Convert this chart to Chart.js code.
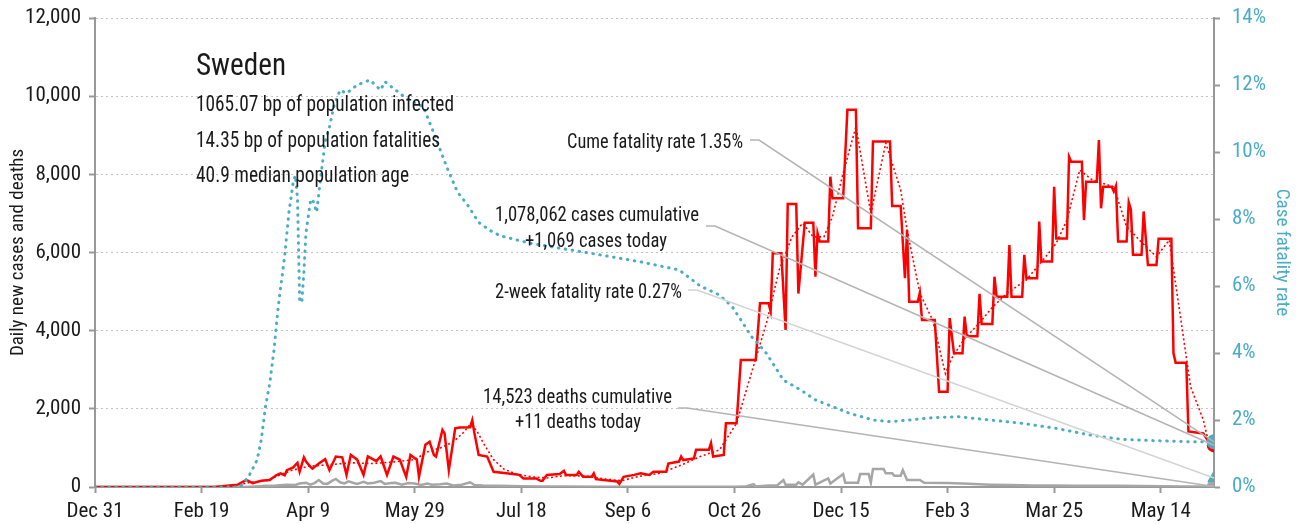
<!DOCTYPE html>
<html>
<head>
<meta charset="utf-8">
<script src="https://cdn.jsdelivr.net/npm/chart.js@4.4.1/dist/chart.umd.min.js"></script>
<style>
  html, body { margin: 0; padding: 0; background: #fff; }
  #wrap { width: 1312px; height: 524px; }
</style>
</head>
<body>
<div id="wrap"><canvas id="myChart"></canvas></div>
<script>
// day 0 = Dec 31, 2019
var lastDay = 525;
var months = ['Jan','Feb','Mar','Apr','May','Jun','Jul','Aug','Sep','Oct','Nov','Dec'];

// daily new cases (vertices: day, value)
var caseDays = [0,56,62,67,71,74,78,82,85,87,89,90,93,95,96,98,99,101,102,105,108,110,113,116,118,120,123,126,128,132,134,137,140,143,146,148,151,152,155,157,159,160,163,164,166,169,171,176,177,178,180,184,187,193,199,201,207,209,210,212,218,220,221,226,227,229,233,234,235,245,246,248,253,256,260,262,268,269,274,275,276,281,282,288,289,290,295,296,301,303,310,312,316,317,318,322,324,325,329,330,333,337,338,339,340,344,345,346,351,353,357,358,364,365,373,374,378,380,381,382,386,387,388,394,396,400,401,403,407,408,409,414,415,416,421,422,423,428,429,430,435,436,437,442,443,444,449,450,451,456,457,458,463,464,465,470,471,472,473,477,478,479,480,484,485,486,487,491,492,494,498,499,505,506,507,512,513,520,522,525];
var caseVals = [0,0,30,60,180,100,160,180,300,350,300,430,500,620,390,760,650,520,470,600,710,430,780,760,310,820,700,310,780,660,780,310,780,700,260,820,700,260,1080,1160,820,780,1460,1370,430,1500,1520,1530,1710,1380,820,780,390,350,310,220,220,160,160,310,330,410,310,310,390,260,260,350,200,140,80,260,310,350,310,390,390,600,650,780,690,730,950,950,1120,780,820,1630,1630,3250,3250,4700,4700,4490,5980,5980,4020,7240,7240,4950,6760,6760,5380,6490,6280,6280,7940,7390,7390,9650,9650,6620,6620,8840,8840,7190,7190,5340,6580,4740,4740,4970,4270,4270,2440,2440,4320,3420,3420,4360,3860,3860,4940,4170,4170,5380,4870,4870,6190,4870,4870,5940,5340,5340,6790,5770,5770,7680,6360,6360,8450,8320,8320,6830,7810,7810,8880,7130,7680,7680,7560,7700,6280,6280,7280,7100,5940,5940,7050,5680,5680,6350,6350,3420,3180,3180,1420,1370,1200,1069];

// 7-day average of cases
var avgDays = [0,60,66,72,80,86,92,100,110,120,130,140,150,156,162,168,173,176,179,183,187,192,198,205,212,220,230,240,247,255,265,275,284,293,301,307,315,321,327,332,337,342,346,351,357,364,371,378,381,387,393,399,402,408,415,421,428,437,446,451,456,462,468,478,484,490,498,504,509,514,520,522,525];
var avgVals = [0,0,40,110,160,290,420,530,570,620,600,640,700,900,1000,1150,1400,1600,1450,1050,700,450,330,260,230,290,280,200,160,270,350,560,780,950,1630,2740,4190,5550,6400,6750,6400,6400,6920,8030,9220,7000,8800,7600,6580,4960,4270,2900,3300,3800,4200,4600,4960,5300,5890,6240,6830,8110,7850,7680,6660,6320,5890,6320,4450,2570,1714,1250,1150];

// daily deaths
var deathDays = [0,70,75,80,85,90,94,96,99,101,103,105,107,109,111,113,115,117,119,121,123,126,128,131,134,136,139,141,144,147,150,153,156,158,162,165,168,172,176,178,182,190,200,210,220,240,300,305,309,310,316,320,323,324,329,330,332,337,338,344,345,351,352,358,359,363,364,365,370,371,374,375,378,379,381,387,389,400,410,420,430,440,450,460,470,480,490,500,510,520,525];
var deathVals = [0,0,15,30,40,60,50,90,110,60,100,180,90,80,150,205,120,90,145,110,80,130,90,110,150,80,100,110,60,100,90,50,90,60,70,90,40,60,120,50,40,30,20,15,10,5,5,10,70,10,40,40,180,60,60,120,60,320,60,220,90,330,110,110,330,330,110,460,460,350,350,290,290,435,180,180,110,100,80,60,50,40,40,35,30,30,25,20,15,10,11];

// case fatality rate, %
var cfrDays = [0,66,68,72,76,78,80,82,84,86,89,91,93,94,95,96,97,98,99,101,102,104,106,108,110,112,115,118,123,129,134,136,140,146,154,159,165,170,175,180,185,190,204,218,237,256,274,284,293,299,304,308,311,315,323,331,338,346,354,365,373,382,393,405,420,435,451,467,482,498,514,525];
var cfrVals = [0,0,0,0.3,0.8,1.4,2.4,3.1,4.1,5.4,6.9,8.2,9.1,9.3,8.6,5.6,5.5,6.4,7.6,8.5,8.6,8.2,9.3,10.3,10.75,11.35,11.85,11.75,12.0,12.15,11.85,12.1,11.9,11.6,11.35,10.56,9.56,8.81,8.4,7.9,7.67,7.5,7.28,7.13,6.93,6.72,6.48,6.0,5.73,5.38,4.89,4.49,4.29,3.99,3.19,2.9,2.6,2.4,2.2,2.0,1.95,2.0,2.07,2.1,2.0,1.9,1.75,1.55,1.42,1.38,1.35,1.35];

var twoWeekRate = 0.27;

var country = 'Sweden';
var stats = ['1065.07 bp of population infected', '14.35 bp of population fatalities', '40.9 median population age'];
var cumeText = 'Cume fatality rate 1.35%';
var casesText = ['1,078,062 cases cumulative', '+1,069 cases today'];
var twoWeekText = '2-week fatality rate 0.27%';
var deathsText = ['14,523 deaths cumulative', '+11 deaths today'];

var teal = '#4bacc6';
var gray = '#a6a6a6';
var ink = '#1a1a1a';
var font = "'Roboto Condensed', 'Open Sans', sans-serif";

function pts(days, vals) {
    return days.map(function (d, i) { return { x: d, y: vals[i] }; });
}
function lastOnly(r) {
    return function (c) { return c.dataIndex === c.dataset.data.length - 1 ? r : 0; };
}
function fmtDay(v) {
    var d = new Date(2019, 11, 31 + v);
    return months[d.getMonth()] + ' ' + d.getDate();
}
// the tick padding would otherwise push the plot area down
function fixY(width) {
    return function (s) {
        s.width = width;
        s.paddingTop = 0;
        s.paddingBottom = 0;
    };
}

Chart.defaults.font.family = font;

// texts and leader lines
var notes = {
    id: 'notes',
    afterDatasetsDraw: function (chart) {
        var ctx = chart.ctx;
        var xs = chart.scales.x, yl = chart.scales.y, yr = chart.scales.y1;
        var ex = xs.getPixelForValue(lastDay);

        function leader(x0, y0, y1, col) {
            ctx.beginPath();
            ctx.strokeStyle = col;
            ctx.lineWidth = 1.5;
            ctx.moveTo(x0, y0);
            ctx.lineTo(x0 + 9, y0);
            ctx.lineTo(ex, y1);
            ctx.stroke();
        }
        // squeeze a text into [x0, x1] so it keeps the narrow look of the original
        function fit(str, x0, x1, base, size) {
            ctx.font = size + 'px ' + font;
            var w = ctx.measureText(str).width;
            ctx.save();
            ctx.translate(x0, base);
            ctx.scale((x1 - x0) / w, 1);
            ctx.textAlign = 'left';
            ctx.fillText(str, 0, 0);
            ctx.restore();
        }
        ctx.save();
        leader(750, 140, yr.getPixelForValue(cfrVals[cfrVals.length - 1]), '#b4b4b4');
        leader(706, 226, yl.getPixelForValue(caseVals[caseVals.length - 1]), '#b4b4b4');
        leader(688, 290, yr.getPixelForValue(twoWeekRate), '#d4d4d4');
        leader(678, 408, yl.getPixelForValue(deathVals[deathVals.length - 1]), '#b4b4b4');

        ctx.fillStyle = ink;
        ctx.textBaseline = 'alphabetic';
        fit(country, 196, 286, 75, 32);
        fit(stats[0], 196, 454, 111, 22);
        fit(stats[1], 196, 440, 147, 22);
        fit(stats[2], 196, 409, 182, 22);

        fit(cumeText, 567, 743, 148, 21);
        fit(casesText[0], 495, 699, 221, 21);
        fit(casesText[1], 525, 667, 247, 21);
        fit(twoWeekText, 495, 682, 298, 21);
        fit(deathsText[0], 483, 672, 403, 21);
        fit(deathsText[1], 515, 641, 428, 21);
        ctx.restore();
    }
};

new Chart(document.getElementById('myChart'), {
    type: 'line',
    data: {
        datasets: [{
            data: pts(cfrDays, cfrVals),
            yAxisID: 'y1',
            borderColor: teal,
            borderWidth: 3,
            borderDash: [0.5, 6.5],
            borderCapStyle: 'round',
            pointRadius: lastOnly(6),
            pointBackgroundColor: teal,
            pointBorderColor: teal,
            order: 1
        }, {
            data: [{ x: lastDay, y: twoWeekRate }],
            yAxisID: 'y1',
            showLine: false,
            pointStyle: 'triangle',
            pointRadius: 7,
            pointBackgroundColor: teal,
            pointBorderColor: teal,
            order: 2
        }, {
            data: pts(caseDays, caseVals),
            yAxisID: 'y',
            borderColor: '#ff0000',
            borderWidth: 2.5,
            pointRadius: lastOnly(6),
            pointBackgroundColor: '#ff0000',
            pointBorderColor: '#ff0000',
            order: 3
        }, {
            data: pts(avgDays, avgVals),
            yAxisID: 'y',
            borderColor: '#ff0000',
            borderWidth: 1.6,
            borderDash: [2, 2.5],
            pointRadius: 0,
            order: 4
        }, {
            data: pts(deathDays, deathVals),
            yAxisID: 'y',
            borderColor: gray,
            borderWidth: 2.5,
            pointRadius: lastOnly(6),
            pointBackgroundColor: gray,
            pointBorderColor: gray,
            order: 5
        }]
    },
    options: {
        responsive: true,
        maintainAspectRatio: false,
        animation: false,
        layout: { padding: { top: 18, right: 0, bottom: 0, left: 0 } },
        plugins: { legend: { display: false }, tooltip: { enabled: false } },
        elements: { line: { tension: 0 } },
        scales: {
            x: {
                type: 'linear',
                min: 0,
                max: lastDay,
                afterFit: function (s) { s.height = 37; },
                ticks: { stepSize: 50, includeBounds: false, autoSkip: false, maxRotation: 0, padding: 6, color: ink, font: { size: 21 }, callback: fmtDay },
                grid: { drawOnChartArea: false, drawTicks: true, tickLength: 6, tickColor: '#999', tickWidth: 2 },
                border: { color: '#999', width: 2 }
            },
            y: {
                position: 'left',
                min: 0,
                max: 12000,
                afterFit: fixY(95),
                ticks: { stepSize: 2000, padding: 8, color: ink, font: { size: 21 }, callback: function (v) { return v.toLocaleString('en-US'); } },
                grid: { color: '#c4c4c4', lineWidth: 1, tickLength: 6, tickColor: '#999', tickWidth: 2, tickBorderDash: [] },
                border: { color: '#999', width: 2, dash: [2, 3] },
                title: { display: true, text: 'Daily new cases and deaths', color: ink, font: { size: 19 }, padding: { top: 7, bottom: 0 } }
            },
            y1: {
                position: 'right',
                min: 0,
                max: 14,
                afterFit: fixY(98),
                ticks: { stepSize: 2, padding: 12, color: teal, font: { size: 21 }, callback: function (v) { return v + '%'; } },
                grid: { drawOnChartArea: false, tickLength: 6, tickColor: '#999', tickWidth: 2 },
                border: { color: '#999', width: 2 },
                title: { display: true, text: 'Case fatality rate', color: teal, font: { size: 19 }, padding: { top: 19, bottom: 0 } }
            }
        }
    },
    plugins: [notes]
});
</script>
</body>
</html>
